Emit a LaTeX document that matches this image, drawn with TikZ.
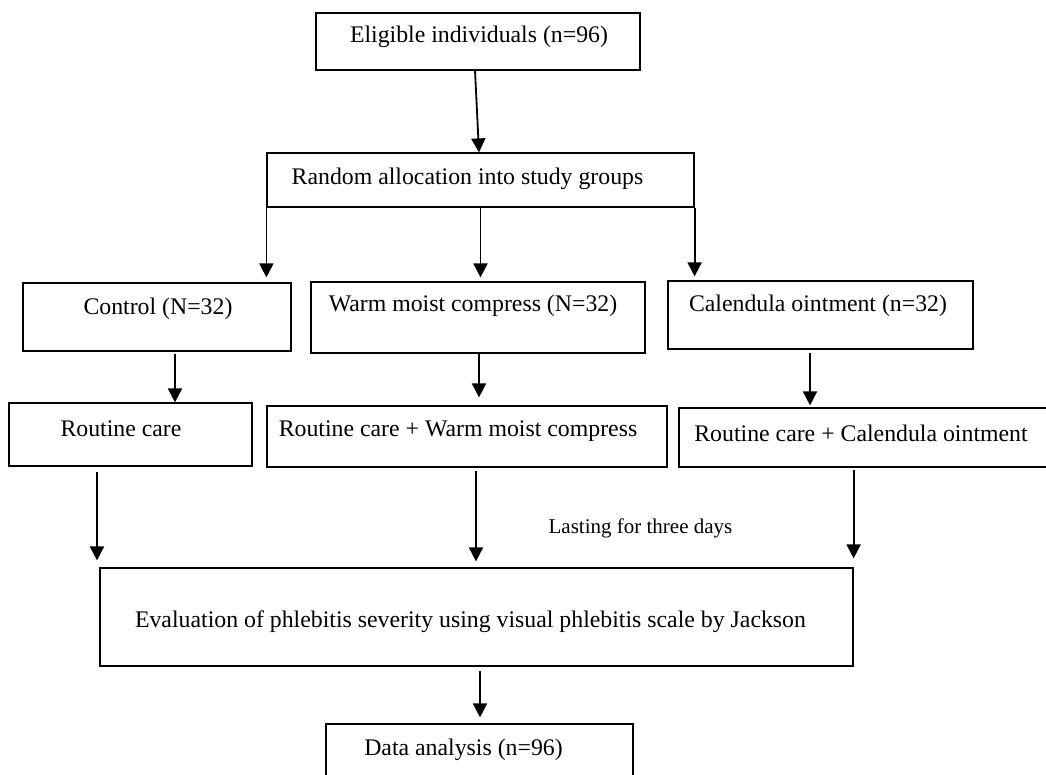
\documentclass[tikz,border=0pt]{standalone}
\usepackage{fontspec}
\setmainfont{Liberation Serif}
\usetikzlibrary{arrows.meta,calc}
\begin{document}
\begin{tikzpicture}[x=1pt,y=-1pt,
  box/.style={draw,line width=1.2pt,rectangle,inner sep=0pt,fill=none},
  txt/.style={inner sep=0pt,font=\fontsize{23.8pt}{28pt}\selectfont},
  smalltxt/.style={inner sep=0pt,font=\fontsize{21pt}{25pt}\selectfont},
  arr/.style={line width=1.8pt,-{Triangle[length=14pt,width=14pt]}}]
\useasboundingbox (0,0) rectangle (1046,774);
\fill[white] (0,0) rectangle (1046,774);
% boxes
\node[box,minimum width=324pt,minimum height=57pt] (elig) at (478,41.5) {};
\node[box,minimum width=427pt,minimum height=54pt] (rand) at (480.5,180) {};
\node[box,minimum width=268pt,minimum height=68pt] (ctrl) at (157,317) {};
\node[box,minimum width=334pt,minimum height=71pt] (warm) at (478,317.5) {};
\node[box,minimum width=305pt,minimum height=68pt] (cal) at (820.5,315) {};
\node[box,minimum width=243pt,minimum height=63pt] (rc) at (130.5,434.5) {};
\node[box,minimum width=400pt,minimum height=61pt] (rcw) at (467,436.5) {};
\node[box,minimum width=381pt,minimum height=59pt] (rcc) at (869.5,437.5) {};
\node[box,minimum width=753pt,minimum height=98pt] (eval) at (476.5,617) {};
\node[box,minimum width=307pt,minimum height=76pt] (data) at (479.5,762) {};
% texts
\node[txt] (teligt) at (479,37) {Eligible individuals (n=96)};
\node[txt] (trand) at (467.5,179) {Random allocation into study groups};
\node[txt] (tctrl) at (158,309) {Control (N=32)};
\node[txt] (twarm) at (473,306) {Warm moist compress (N=32)};
\node[txt] (tcal) at (818,306) {Calendula ointment (n=32)};
\node[txt] (trc) at (121,429) {Routine care};
\node[txt] (trcw) at (458,431) {Routine care +\ Warm moist compress};
\node[txt] (trcc) at (861,433) {Routine care + Calendula ointment};
\node[txt] (teval) at (470.5,622) {Evaluation of phlebitis severity using visual phlebitis scale by Jackson};
\node[txt] (tdata) at (463.5,750) {Data analysis (n=96)};
\node[smalltxt] (tlast) at (640.5,528) {Lasting for three days};
% connectors
\draw[arr] ([xshift=-3pt]elig.south) -- ([xshift=-1.5pt]rand.north);
\draw[arr,shorten >=5pt] (rand.south west) -- (rand.south west |- ctrl.north);
\draw[arr,shorten >=4pt] (rand.south) -- (rand.south |- warm.north);
\draw[arr,shorten >=4pt] (rand.south east) -- (rand.south east |- cal.north);
\draw[arr,shorten <=2pt] ([xshift=18pt]ctrl.south) -- ([xshift=18pt]ctrl.south |- rc.north);
\draw[arr,shorten >=8pt] ([xshift=1pt]warm.south) -- ([xshift=1pt]warm.south |- rcw.north);
\draw[arr,shorten <=3pt,shorten >=2pt] ([xshift=-10.5pt]cal.south) -- ([xshift=-10.5pt]cal.south |- rcc.north);
\draw[arr,shorten <=5pt,shorten >=7pt] ([xshift=-33.5pt]rc.south) -- ([xshift=-33.5pt]rc.south |- eval.north);
\draw[arr,shorten <=3pt,shorten >=6pt] ([xshift=9pt]rcw.south) -- ([xshift=9pt]rcw.south |- eval.north);
\draw[arr,shorten <=2pt,shorten >=9pt] (eval.north east |- rcc.south) -- (eval.north east);
\draw[arr,shorten <=4pt,shorten >=6pt] ([xshift=3.5pt]eval.south) -- ([xshift=3.5pt]eval.south |- data.north);
\end{tikzpicture}
\end{document}
